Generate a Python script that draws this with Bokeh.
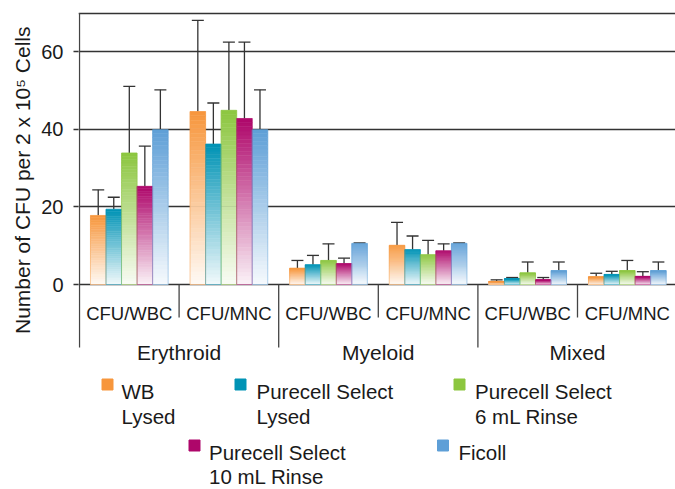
from bokeh.plotting import figure
from bokeh.models import Range1d, FixedTicker, Whisker, TeeHead, ColumnDataSource, Title
from bokeh.core.properties import value
from bokeh.embed import file_html
from bokeh.resources import INLINE

# ---------------- data ----------------
groups = ["Erythroid", "Myeloid", "Mixed"]
subgroups = ["CFU/WBC", "CFU/MNC"]
series = ["WB Lysed", "Purecell Select Lysed", "Purecell Select 6 mL Rinse",
          "Purecell Select 10 mL Rinse", "Ficoll"]
legend_lines = [["WB", "Lysed"], ["Purecell Select", "Lysed"],
                ["Purecell Select", "6 mL Rinse"], ["Purecell Select", "10 mL Rinse"],
                ["Ficoll"]]
colors = ["#F7963C", "#0093B5", "#8CC63F", "#AE066A", "#5E9FD7"]

# order of sub-categories: Ery WBC, Ery MNC, Mye WBC, Mye MNC, Mix WBC, Mix MNC
wb_lysed = [17.8, 44.6, 4.2, 10.1, 0.8, 2.0]
ps_lysed = [19.4, 36.2, 5.1, 9.0, 1.5, 2.6]
ps_6ml = [33.9, 44.9, 6.2, 7.7, 3.0, 3.6]
ps_10ml = [25.3, 42.8, 5.4, 8.7, 1.2, 2.1]
ficoll = [39.9, 39.9, 10.6, 10.6, 3.6, 3.6]

wb_lysed_sd = [6.6, 23.5, 2.0, 5.9, 0.4, 0.9]
ps_lysed_sd = [3.1, 10.6, 2.4, 3.5, 0.3, 0.8]
ps_6ml_sd = [17.2, 17.6, 4.3, 3.7, 2.8, 2.6]
ps_10ml_sd = [10.4, 19.7, 1.4, 1.8, 0.6, 1.2]
ficoll_sd = [10.3, 10.3, 0.1, 0.1, 2.2, 2.2]

y_ticks = [0, 20, 40, 60]
y_max = 70

means = [wb_lysed, ps_lysed, ps_6ml, ps_10ml, ficoll]
sds = [wb_lysed_sd, ps_lysed_sd, ps_6ml_sd, ps_10ml_sd, ficoll_sd]

# ---------------- layout (canvas pixels) ----------------
W, H = 675, 489
FRAME_L, FRAME_R, FRAME_T, FRAME_B = 78, 675, 11, 489
ZERO_PY, TOP_PY = 284.0, 12.5
PPU = (ZERO_PY - TOP_PY) / y_max
GROUP_PX = 99.6
AXIS_PX = 79

y_start = -(FRAME_B - ZERO_PY) / PPU
y_end = y_max + (TOP_PY - FRAME_T) / PPU
x_start = -(AXIS_PX - FRAME_L) / GROUP_PX
x_end = (FRAME_R - AXIS_PX) / GROUP_PX

FONT = value("Liberation Sans")
TXT = "#1a1a1a"
LINE = "#333333"

p = figure(width=W, height=H, output_backend="svg", toolbar_location=None,
           x_range=Range1d(x_start, x_end), y_range=Range1d(y_start, y_end),
           x_axis_location=None, min_border_left=FRAME_L, min_border_right=0,
           min_border_top=FRAME_T, min_border_bottom=0)
p.extra_x_ranges = {"px": Range1d(FRAME_L, FRAME_R)}
p.extra_y_ranges = {"px": Range1d(FRAME_B, FRAME_T)}
p.outline_line_color = None
p.background_fill_color = "white"
p.border_fill_color = "white"
p.xgrid.visible = False
p.ygrid.ticker = FixedTicker(ticks=y_ticks + [y_max])
p.ygrid.grid_line_color = LINE
p.ygrid.grid_line_width = 1.4

ax = p.yaxis[0]
ax.ticker = FixedTicker(ticks=y_ticks)
ax.axis_line_color = None
ax.major_tick_in = 0
ax.major_tick_out = 5
ax.major_tick_line_color = LINE
ax.major_tick_line_width = 1.3
ax.minor_tick_line_color = None
ax.major_label_text_font = "Liberation Sans"
ax.major_label_text_font_size = "20px"
ax.major_label_text_color = TXT
ax.major_label_standoff = 10

# y axis title, placed along the upper part of the left side
p.add_layout(Title(text="Number of CFU per 2 x 10\u2075 Cells", align="right", offset=15,
                   text_font="Liberation Sans", text_font_size="21px",
                   text_font_style="normal", text_color=TXT, standoff=10), "left")

# y axis line
p.segment(x0=[0], y0=[0], x1=[0], y1=[y_max], line_color="#444444", line_width=1.3)

# ---------------- bars with vertical gradient ----------------
n_sub = len(groups) * len(subgroups)
n_ser = len(series)
BAR_W = 0.78 / n_ser
N = 40


def mix(c, a):
    r, g, b = int(c[1:3], 16), int(c[3:5], 16), int(c[5:7], 16)
    r = round(255 + (r - 255) * a)
    g = round(255 + (g - 255) * a)
    b = round(255 + (b - 255) * a)
    return "#%02x%02x%02x" % (r, g, b)


sl = dict(left=[], right=[], bottom=[], top=[], color=[])
ol = dict(left=[], right=[], top=[], color=[])
wk = dict(x=[], base=[], upper=[])
for j in range(n_ser):
    for k in range(n_sub):
        xc = k + 0.5 + (j - (n_ser - 1) / 2) * BAR_W
        v = means[j][k]
        for i in range(N):
            a = 0.05 + 0.95 * (i + 0.5) / N
            sl["left"].append(xc - BAR_W / 2)
            sl["right"].append(xc + BAR_W / 2)
            sl["bottom"].append(v * i / N)
            sl["top"].append(v * (i + 1) / N)
            sl["color"].append(mix(colors[j], a))
        ol["left"].append(xc - BAR_W / 2)
        ol["right"].append(xc + BAR_W / 2)
        ol["top"].append(v)
        ol["color"].append(colors[j])
        wk["x"].append(xc)
        wk["base"].append(v)
        wk["upper"].append(v + sds[j][k])

p.quad(left="left", right="right", bottom="bottom", top="top", source=ColumnDataSource(sl),
       fill_color="color", line_color="color", line_width=0.5)
p.quad(left="left", right="right", bottom=0, top="top", source=ColumnDataSource(ol),
       fill_color=None, line_color="color", line_alpha=0.45, line_width=1)

wsrc = ColumnDataSource(wk)
p.add_layout(Whisker(source=wsrc, base="x", lower="base", upper="upper", dimension="height",
                     line_color=LINE, line_width=1.3, lower_head=None,
                     upper_head=TeeHead(size=12, line_color=LINE, line_width=1.3)))

# ---------------- category axis (labels + separators) ----------------
sep_x, sep_y1 = [], []
for b in range(n_sub + 1):
    sep_x.append(b)
    sep_y1.append(347 if b % len(subgroups) == 0 else 317)
p.segment(x0=sep_x, y0=[ZERO_PY] * len(sep_x), x1=sep_x, y1=sep_y1, y_range_name="px",
          line_color="#444444", line_width=1.3)

sub_x = [k + 0.5 for k in range(n_sub)]
sub_t = [subgroups[k % len(subgroups)] for k in range(n_sub)]
p.text(x=sub_x, y=[313] * n_sub, text=sub_t, y_range_name="px", text_font=FONT,
       text_font_size=value("18.5px"), text_color=TXT, text_align="center",
       text_baseline="alphabetic")
grp_x = [g * len(subgroups) + len(subgroups) / 2 for g in range(len(groups))]
p.text(x=grp_x, y=[352] * len(groups), text=groups, y_range_name="px", text_font=FONT,
       text_font_size=value("21px"), text_color=TXT, text_align="center",
       text_baseline="alphabetic")

# ---------------- legend (drawn manually) ----------------
sq_x = [107, 240, 459, 194, 442.5]
sq_y = [384, 384, 384, 445, 445]
tx_x = [121, 256, 474.5, 208.5, 458]
p.scatter(x=sq_x, y=sq_y, marker="square", size=11, color=colors,
          x_range_name="px", y_range_name="px")
lx, ly, lt = [], [], []
for j in range(n_ser):
    for li, line in enumerate(legend_lines[j]):
        lx.append(tx_x[j])
        ly.append(sq_y[j] + 7 + li * (24.5 if j < 3 else 23.5))
        lt.append(line)
p.text(x=lx, y=ly, text=lt, x_range_name="px", y_range_name="px", text_font=FONT,
       text_font_size=value("20.5px"), text_color=TXT, text_align="left",
       text_baseline="alphabetic")

open("out.html", "w").write(file_html(p, INLINE))
